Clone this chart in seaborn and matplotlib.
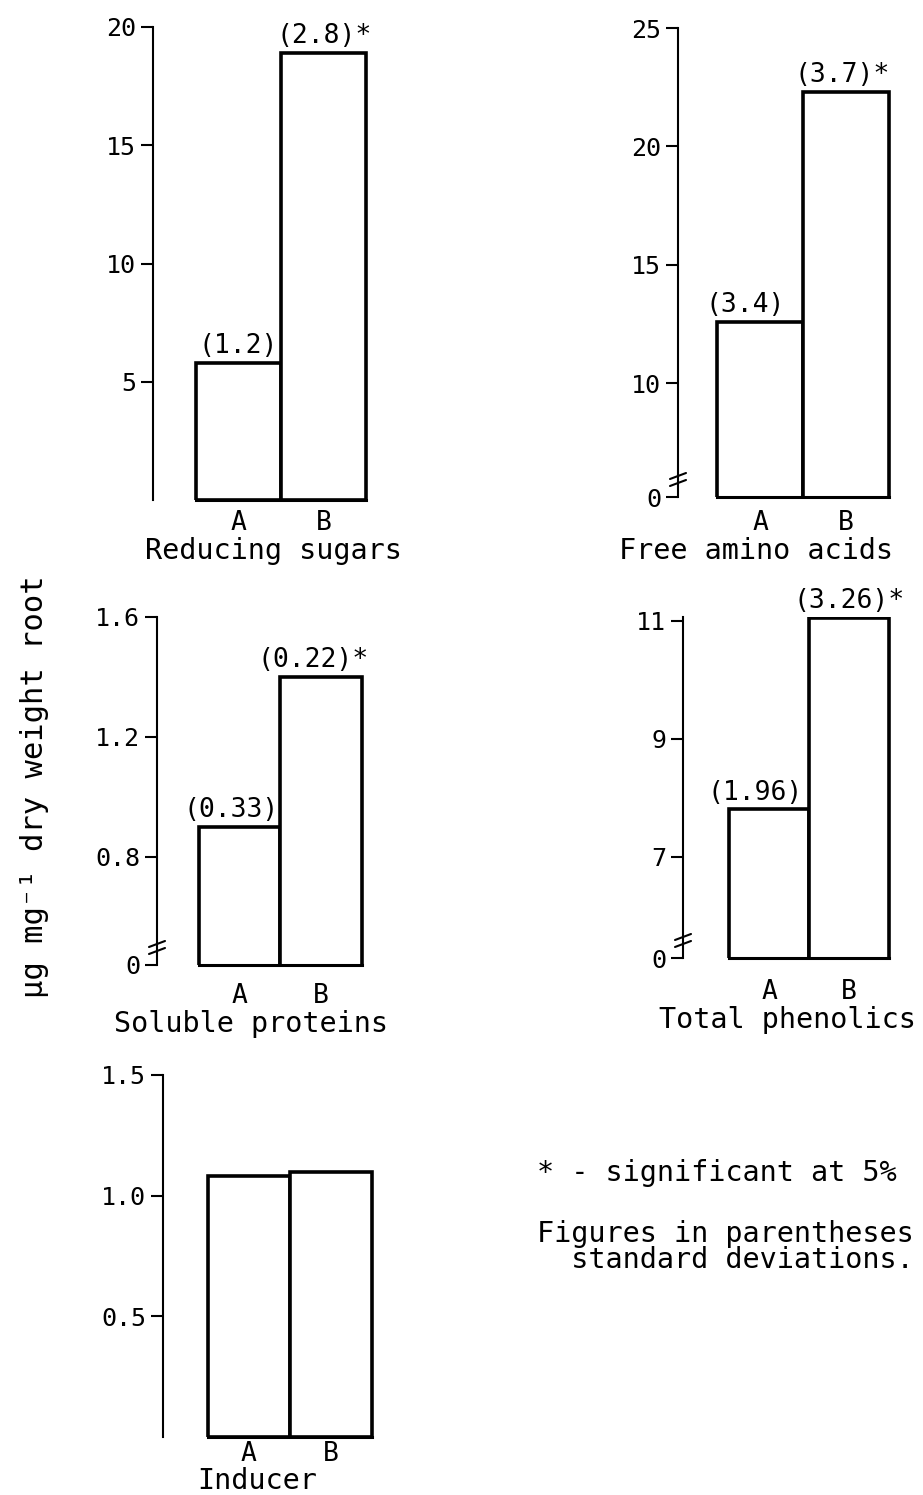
import matplotlib
matplotlib.use("Agg")
import matplotlib.pyplot as plt
import seaborn as sns
import pandas as pd

sns.set_theme(style="white")
plt.rcParams['font.family'] = ['DejaVu Sans Mono', 'DejaVu Sans']
plt.rcParams['text.color'] = 'black'
plt.rcParams['axes.labelcolor'] = 'black'
plt.rcParams['xtick.color'] = 'black'
plt.rcParams['ytick.color'] = 'black'

# ---------------- data ----------------
inducers = ["A", "B"]
reducing_sugars = [5.8, 18.9]
free_amino_acids = [12.6, 22.3]
soluble_proteins = [0.90, 1.40]
total_phenolics = [7.8, 11.05]
inducer_values = [1.08, 1.10]

sd_reducing_sugars = ["(1.2)", "(2.8)*"]
sd_free_amino_acids = ["(3.4)", "(3.7)*"]
sd_soluble_proteins = ["(0.33)", "(0.22)*"]
sd_total_phenolics = ["(1.96)", "(3.26)*"]
sd_inducer = [None, None]

titles = ["Reducing sugars", "Free amino acids", "Soluble proteins",
          "Total phenolics", "Inducer"]

ticks_rs = [5, 10, 15, 20]
ticklabels_rs = ["5", "10", "15", "20"]
ticks_aa = [5.2, 10, 15, 20, 25]
ticklabels_aa = ["0", "10", "15", "20", "25"]
ticks_sp = [0.44, 0.8, 1.2, 1.6]
ticklabels_sp = ["0", "0.8", "1.2", "1.6"]
ticks_tp = [5.28, 7, 9, 11]
ticklabels_tp = ["0", "7", "9", "11"]
ticks_in = [0.5, 1.0, 1.5]
ticklabels_in = ["0.5", "1.0", "1.5"]

ylabel = "µg mg⁻¹ dry weight root"
note_sig = "* - significant at 5%"
note_sd = "Figures in parentheses\n  standard deviations."

# ---------------- layout (pixels) ----------------
W, H = 923, 1495
fig = plt.figure(figsize=(W / 100, H / 100), dpi=100)

panels = [
    # values, sds, ticks, ticklabels, ylim, xlim, box(l, r, top, bottom), tickpad, labelpad, title_x, xoffs, broken
    (reducing_sugars, sd_reducing_sugars, ticks_rs, ticklabels_rs, (0, 20), (-1.0, 1.53),
     (153, 369, 27, 500), 7, 1, 0.556, [0, 0], False),
    (free_amino_acids, sd_free_amino_acids, ticks_aa, ticklabels_aa, (5.2, 25), (-0.95, 1.53),
     (678, 892, 28, 497), 9, 1, 0.364, [-11, -3], True),
    (soluble_proteins, sd_soluble_proteins, ticks_sp, ticklabels_sp, (0.44, 1.6), (-1.02, 1.53),
     (157, 364, 617, 965), 13, 1, 0.454, [-6, -6], True),
    (total_phenolics, sd_total_phenolics, ticks_tp, ticklabels_tp, (5.28, 11.06), (-1.08, 1.53),
     (683, 891, 617, 958), 15, 1, 0.5, [-10, 0], True),
    (inducer_values, sd_inducer, ticks_in, ticklabels_in, (0, 1.5), (-1.05, 1.53),
     (163, 374, 1075, 1437), 3, 0, 0.445, [0, 0], False),
]

FS_TICK = 18
FS_ANN = 19
FS_TITLE = 20.5
for (vals, sds, ticks, tlabels, ylim, xlim, box, tpad, lpad, tx, xoffs, broken), title in zip(panels, titles):
    l, r, t, b = box
    ax = fig.add_axes([l / W, 1 - b / H, (r - l) / W, (b - t) / H])
    df = pd.DataFrame({"inducer": inducers, "value": vals})
    sns.barplot(data=df, x="inducer", y="value", ax=ax, width=1.0, color="white",
                saturation=1, edgecolor="black", linewidth=2.6)
    ax.set_xlim(*xlim)
    ax.set_ylim(*ylim)
    ax.set_yticks(ticks)
    ax.set_yticklabels(tlabels)
    ax.set_ylabel("")
    ax.set_xlabel(title, fontsize=FS_TITLE, labelpad=lpad, color="black")
    ax.xaxis.label.set_x(tx)
    for s in ["top", "right"]:
        ax.spines[s].set_visible(False)
    ax.spines["left"].set_color("black")
    ax.spines["left"].set_linewidth(1.5)
    ax.spines["bottom"].set_color("black")
    ax.spines["bottom"].set_linewidth(2.2)
    ax.spines["bottom"].set_bounds(-0.5, 1.5)
    ax.tick_params(axis="y", direction="out", length=9, width=1.5, pad=3,
                   labelsize=FS_TICK, colors="black", left=True)
    ax.tick_params(axis="x", length=0, pad=tpad, labelsize=FS_ANN, colors="black")
    ax.set_facecolor("white")
    ax.grid(False)

    for i, (v, s) in enumerate(zip(vals, sds)):
        if s is None:
            continue
        ax.annotate(s, xy=(i, v), xytext=(xoffs[i], 12), textcoords="offset points",
                    ha="center", va="center", fontsize=FS_ANN, color="black",
                    annotation_clip=False)

    if broken:
        wpx, hpx = r - l, b - t
        for yy in (14, 21):
            ax.plot([-8 / wpx, 8 / wpx], [(yy - 3) / hpx, (yy + 3) / hpx],
                    transform=ax.transAxes, color="black", lw=1.5, clip_on=False)

fig.text(35 / W, 1 - 787 / H, ylabel, rotation=90, ha="center", va="center",
         fontsize=22, color="black")
fig.text(537 / W, 1 - 1173 / H, note_sig, ha="left", va="center", fontsize=20.5, color="black")
fig.text(537 / W, 1 - 1247 / H, note_sd, ha="left", va="center", fontsize=20.5,
         linespacing=0.9, color="black")

fig.savefig("out.png", dpi=100, facecolor="white")
